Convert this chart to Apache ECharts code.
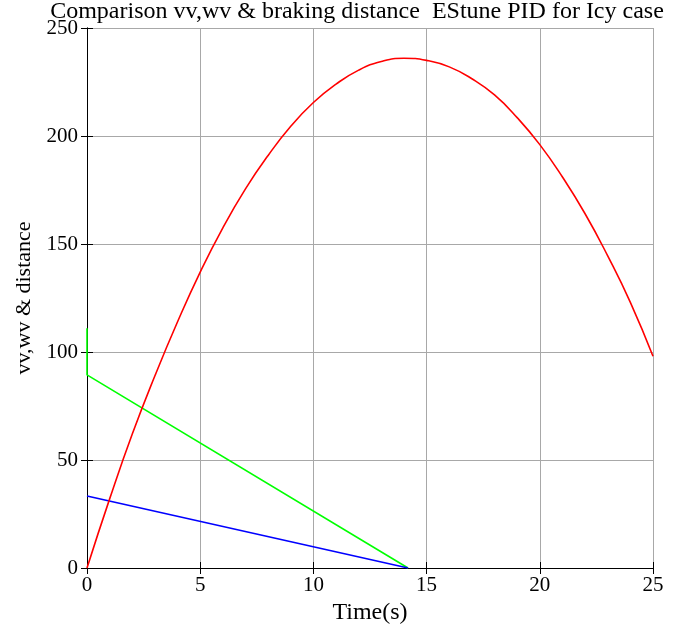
<!DOCTYPE html>
<html>
<head>
<meta charset="utf-8">
<script src="https://cdn.jsdelivr.net/npm/echarts@6/dist/echarts.min.js"></script>
<style>html,body{margin:0;padding:0;background:#fff}#c{width:675px;height:626px}</style>
</head>
<body>
<div id="c"></div>
<script>
// Data
const distTime = [0,1,2,3,4,5,6,7,8,9,10,11,12,13,14,15,16,17,18,19,20,21,22,23,24,25];
const distVals = [0,32,62,89,114,137,157.5,175.5,191,204.5,215.5,224,230.5,234.5,236,235,232,226.5,219,208.5,196,181,164,144.5,123,98];
const wvTime = [0,0,14.18];
const wvVals = [111,89.4,0];
const vvTime = [0,14.18];
const vvVals = [33.3,0];
const xTicks = [0,5,10,15,20,25];
const yTicks = [0,50,100,150,200,250];

const pairs = (xs, ys) => xs.map((x, i) => [x, ys[i]]);
const font = 'Liberation Serif, Times New Roman, serif';

const chart = echarts.init(document.getElementById('c'));
const axisCommon = {
  axisLine: { show: true, lineStyle: { color: '#000', width: 1 } },
  axisTick: { show: true, inside: true, length: 6, lineStyle: { color: '#000' } },
};
chart.setOption({
  animation: false,
  backgroundColor: '#fff',
  title: {
    text: 'Comparison vv,wv & braking distance  EStune PID for Icy case',
    left: 352, textAlign: 'center', top: -5,
    textStyle: { fontFamily: font, fontWeight: 'normal', fontSize: 24, color: '#000' }
  },
  grid: { left: 87, right: 22, top: 28, bottom: 58, outerBoundsMode: 'none', containLabel: false },
  xAxis: [{
    type: 'value', min: xTicks[0], max: xTicks[xTicks.length-1], interval: 5,
    name: 'Time(s)', nameLocation: 'middle', nameGap: 32,
    nameTextStyle: { fontFamily: font, fontSize: 24, color: '#000' },
    axisLabel: { fontFamily: font, fontSize: 21, color: '#000', margin: 7 },
    splitLine: { show: true, lineStyle: { color: '#a8a8a8', width: 1 } },
    ...axisCommon
  }, {
    type: 'value', position: 'top', min: 0, max: 25, interval: 5,
    axisLabel: { show: false }, splitLine: { show: false },
    ...axisCommon
  }],
  yAxis: [{
    type: 'value', min: yTicks[0], max: yTicks[yTicks.length-1], interval: 50,
    name: 'vv,wv & distance', nameLocation: 'middle', nameGap: 52,
    nameTextStyle: { fontFamily: font, fontSize: 22, color: '#000' },
    axisLabel: { fontFamily: font, fontSize: 21, color: '#000', margin: 9 },
    splitLine: { show: true, lineStyle: { color: '#a8a8a8', width: 1 } },
    ...axisCommon
  }, {
    type: 'value', position: 'right', min: 0, max: 250, interval: 50,
    axisLabel: { show: false }, splitLine: { show: false },
    ...axisCommon
  }],
  series: [
    { type: 'line', data: pairs(distTime, distVals), smooth: true, showSymbol: false,
      lineStyle: { color: '#ff0000', width: 1.6 }, z: 3 },
    { type: 'line', data: pairs(wvTime, wvVals), showSymbol: false,
      lineStyle: { color: '#00ff00', width: 1.6 }, z: 2 },
    { type: 'line', data: pairs(vvTime, vvVals), showSymbol: false,
      lineStyle: { color: '#0000ff', width: 1.6 }, z: 2 }
  ]
});
</script>
</body>
</html>
